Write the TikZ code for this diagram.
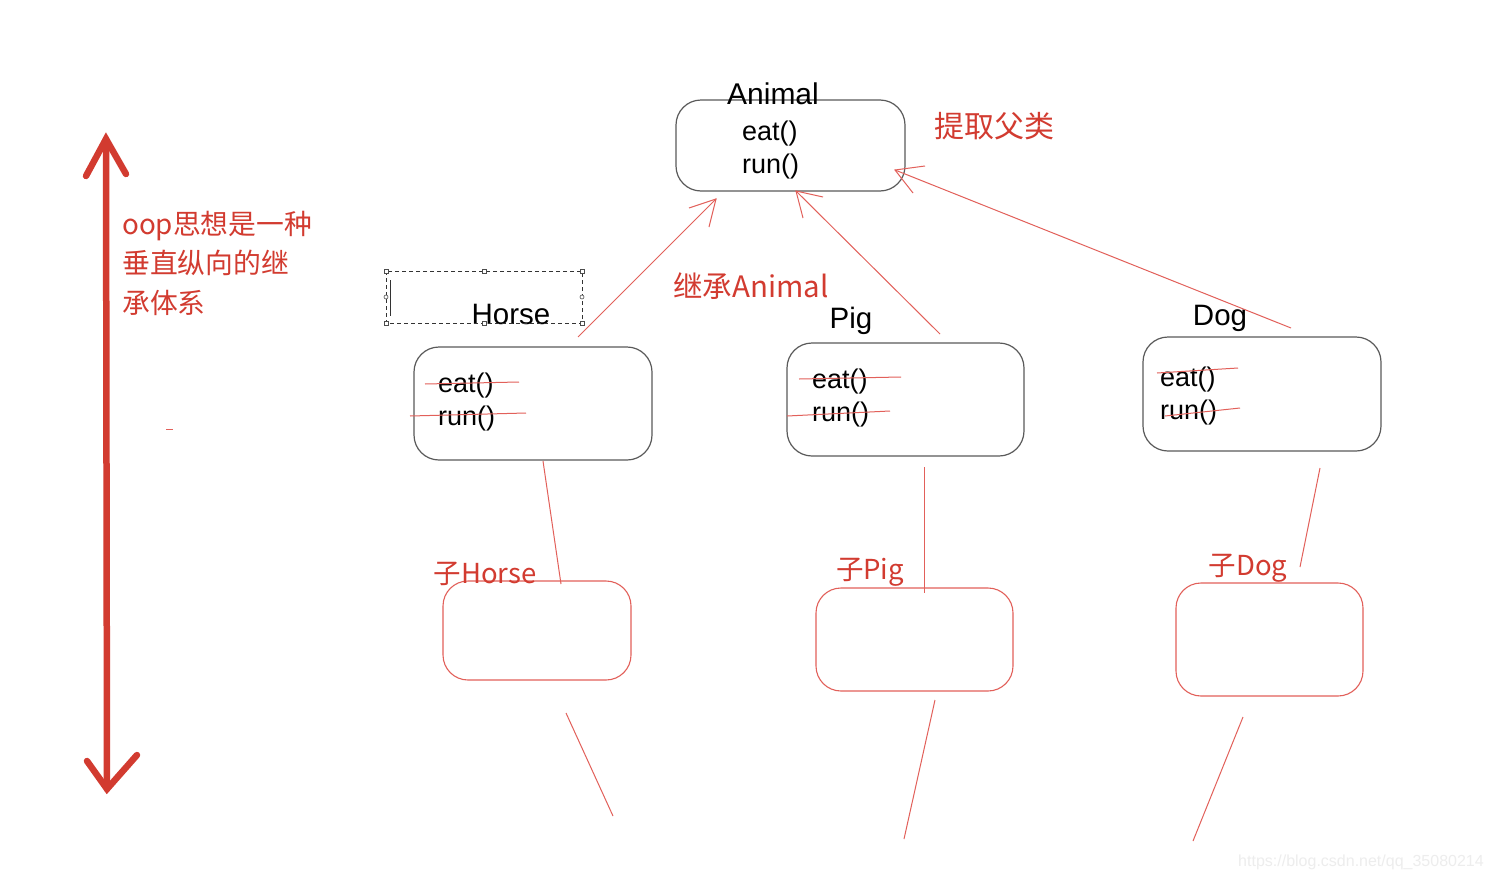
\documentclass[tikz,border=0pt]{standalone}
\usepackage{fontspec}
\setmainfont{Liberation Sans}
\newfontfamily\cjk{Noto Sans CJK SC}
\definecolor{redtxt}{HTML}{D23B30}
\definecolor{redln}{HTML}{E2605A}
\definecolor{boxgray}{HTML}{5A5A5A}
\definecolor{wm}{HTML}{EDEDED}
\begin{document}
\begin{tikzpicture}[x=1pt,y=-1pt,
  cls/.style={draw=boxgray,line width=1.2pt,rounded corners=25pt,inner sep=0pt},
  sub/.style={draw=redln,line width=1.1pt,rounded corners=25pt,inner sep=0pt},
  blk/.style={font=\fontsize{29.5}{31}\selectfont,text=black,inner sep=0pt},
  meth/.style={font=\fontsize{27}{29}\selectfont,text=black,inner sep=0pt,anchor=west,yshift=-3pt},
  rlab/.style={font=\cjk\fontsize{28}{30}\selectfont,text=redtxt,inner sep=0pt},
  thin/.style={draw=redln,line width=1pt},
  strike/.style={draw=redln,line width=1pt},
  handle/.style={draw=black!70,line width=0.6pt,fill=white,minimum size=4pt,inner sep=0pt,rectangle}
]
\useasboundingbox (0,0) rectangle (1492,881);
\fill[white] (0,0) rectangle (1492,881);

% Animal
\node[cls,minimum width=229pt,minimum height=91pt] (animal) at (790.5,145.5) {};
\node[blk,font=\fontsize{30}{32}\selectfont] (animalT) at (773,94) {Animal};
\node[meth] (aeat) at (742,131) {eat()};
\node[meth] (arun) at (742,164) {run()};
\node[rlab,font=\cjk\fontsize{30}{32}\selectfont] (tiqu) at (994,126) {提取父类};

% Horse
\node[cls,minimum width=238pt,minimum height=113pt] (horse) at (533,403.5) {};
\node[meth] (heat) at (438,383) {eat()};
\node[meth] (hrun) at (438,416) {run()};
\node[blk] (horseT) at (511,314) {Horse};
% dashed selection box
\draw[dashed,line width=0.7pt,black!80,dash pattern=on 4pt off 3pt] (386,271) rectangle (582,323);
\draw[line width=0.8pt,black!80] (390,280) -- (390,316);
\foreach \p [count=\i] in {(386,271),(484,271),(582,271),(386,323),(484,323),(582,323)}
  \node[handle] (hd\i) at \p {};
\node[handle,circle,minimum size=4pt] (hl) at (386,297) {};
\node[handle,circle,minimum size=4pt] (hr) at (582,297) {};

% Pig
\node[cls,minimum width=237pt,minimum height=113pt] (pig) at (905.5,399.5) {};
\node[meth] (peat) at (812,379) {eat()};
\node[meth] (prun) at (812,412) {run()};
\node[blk] (pigT) at (851,321) {Pig};

% Dog
\node[cls,minimum width=238pt,minimum height=114pt] (dog) at (1262,394) {};
\node[meth] (deat) at (1160,377) {eat()};
\node[meth] (drun) at (1160,410) {run()};
\node[blk] (dogT) at (1220,318) {Dog};

% strike-throughs
\draw[strike] (425,384) -- (519,382);
\draw[strike] (410,416) -- (526,413);
\draw[strike] (799,379) -- (901,377);
\draw[strike] (787,416) -- (890,411);
\draw[strike] (1157,373) -- (1238,368);
\draw[strike] (1165,416) -- (1240,408);

% inheritance arrows
\coordinate (hA) at (578,337); \coordinate (hB) at (716,199);
\draw[thin] (hA) -- (hB);
\draw[thin] (689,208) -- (hB) -- (709,227);
\coordinate (pA) at (940,334); \coordinate (pB) at (796,191);
\draw[thin] (pA) -- (pB);
\draw[thin] (823,197) -- (pB) -- (803,218);
\coordinate (dA) at (1291,328); \coordinate (dB) at (895,170);
\draw[thin] (dA) -- (dB);
\draw[thin] (925,166) -- (dB) -- (913,193);
\node[rlab,font=\cjk\fontsize{29.5}{31}\selectfont] (jicheng) at (751,286) {继承Animal};

% children
\node[sub,minimum width=188pt,minimum height=99pt] (ch) at (537,630.5) {};
\node[sub,minimum width=197pt,minimum height=103pt] (cp) at (914.5,639.5) {};
\node[sub,minimum width=187pt,minimum height=113pt] (cd) at (1269.5,639.5) {};
\node[rlab,font=\cjk\fontsize{27.5}{29}\selectfont] (chT) at (485,574) {子Horse};
\node[rlab,font=\cjk\fontsize{27.5}{29}\selectfont] (cpT) at (870,572) {子Pig};
\node[rlab,font=\cjk\fontsize{27.5}{29}\selectfont] (cdT) at (1248,568) {子Dog};
\draw[thin] (543,461) -- (561,584);
\draw[thin] (924,467) -- (924,593);
\draw[thin] (1320,468) -- (1300,567);

% lines below children
\draw[thin] (566,713) -- (613,816);
\draw[thin] (935,700) -- (904,839);
\draw[thin] (1243,717) -- (1193,841);

% big vertical arrow
\coordinate (vt) at (106,139);
\coordinate (vb) at (107,789);
\draw[redtxt,line width=6.5pt,line cap=round,line join=miter] (vt) -- (vb);
\draw[redtxt,line width=6.5pt,line cap=round,line join=miter] (86,176) -- (vt) -- (126,174);
\draw[redtxt,line width=6.5pt,line cap=round,line join=miter] (87,761) -- (vb) -- (137,755);

\node[rlab,anchor=west,align=left,font=\cjk\fontsize{27.8}{39.5}\selectfont] (oop) at (122,263) {oop思想是一种\\垂直纵向的继\\承体系};
\draw[redln,line width=1pt] (166,429) -- (173,429);

\node[text=wm,font=\fontsize{16}{18}\selectfont,inner sep=0pt] (wmk) at (1361,862) {https://blog.csdn.net/qq\_35080214};
\end{tikzpicture}
\end{document}
